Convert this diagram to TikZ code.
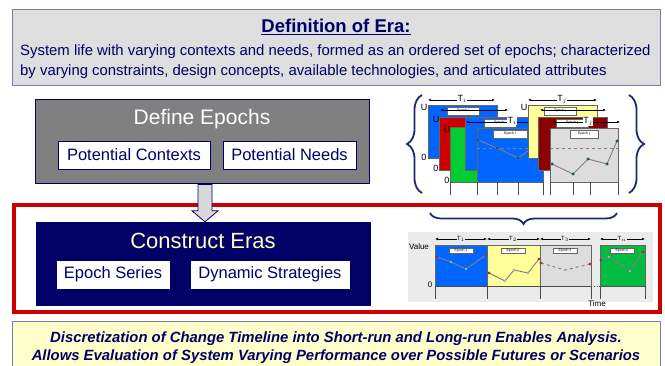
\documentclass[tikz,border=0pt]{standalone}
\usepackage{fontspec}
\setmainfont{Liberation Sans}
\usetikzlibrary{calc,decorations.pathreplacing,arrows.meta}
\definecolor{navy}{HTML}{000066}
\definecolor{frameblue}{HTML}{7B7BAB}
\definecolor{notegrey}{HTML}{DEDEDE}
\definecolor{notecream}{HTML}{FFFFCC}
\definecolor{epochgrey}{HTML}{808080}
\definecolor{erared}{HTML}{CC0000}
\definecolor{arrowgrey}{HTML}{D9D9D9}
\definecolor{pblue}{HTML}{0066FF}
\definecolor{pred}{HTML}{CC0000}
\definecolor{pgreen}{HTML}{00CC33}
\definecolor{pyellow}{HTML}{FFFF99}
\definecolor{pmaroon}{HTML}{8B0000}
\definecolor{pgrey}{HTML}{DDDDDD}
\definecolor{braceblue}{HTML}{1F2A70}
\tikzset{
	notebox/.style={draw=frameblue, line width=1pt, inner sep=0pt},
	subbox/.style={draw=navy, fill=white, inner sep=0pt, text=navy, font=\fontsize{16.5}{18}\selectfont},
	headtext/.style={font=\fontsize{21}{24}\selectfont},
	panel/.style={draw=black!60, line width=0.4pt},
	tag/.style={draw=black!60, fill=white, line width=0.3pt, inner sep=0pt, font=\fontsize{3.5}{4}\selectfont},
	span/.style={{Latex[length=3pt,width=2.5pt]}-{Latex[length=3pt,width=2.5pt]}, line width=0.5pt},
	trace/.style={gray, line width=0.9pt},
	dot/.style={fill=teal!70!black, draw=black!60, line width=0.2pt},
	curly/.style={decorate, decoration={brace, amplitude=#1}, draw=braceblue, line width=1.8pt}
}
\begin{document}
\begin{tikzpicture}[x=1pt, y=-1pt]
		%%%%% START %%%%%
		\useasboundingbox (0,0) rectangle (665,366);
		\fill[white] (0,0) rectangle (665,366);
		
		% definition of era
		\node[notebox, fill=notegrey, minimum width=648, minimum height=76] (defbox) at (336,48) {};
		\node[text=navy, font=\bfseries\fontsize{18.5}{20}\selectfont] (deftitle) at (336,27) {\underline{Definition of Era:}};
		\node[text=navy, font=\fontsize{14.9}{20}\selectfont, align=left, anchor=west, inner sep=0pt] (deftext) at (20,62) {System life with varying contexts and needs, formed as an ordered set of epochs; characterized\\by varying constraints, design concepts, available technologies, and articulated attributes};
		
		% define epochs
		\node[draw=navy, line width=1pt, fill=epochgrey, minimum width=334, minimum height=84] (epochs) at (202,142) {};
		\node[headtext, text=white] (epochstitle) at (202,119) {Define Epochs};
		\node[subbox, minimum width=152, minimum height=28] (contexts) at (134,155) {Potential Contexts};
		\node[subbox, minimum width=133, minimum height=28] (needs) at (289.5,155) {Potential Needs};
		
		% construct eras
		\node[draw=erared, line width=3.5pt, minimum width=646, minimum height=107] (erabox) at (337,258.5) {};
		\node[draw=navy, fill=navy, minimum width=334, minimum height=83] (eras) at (203,263.5) {};
		\node[headtext, text=notecream, font=\fontsize{22}{24}\selectfont] (erastitle) at (203,241) {Construct Eras};
		\node[subbox, draw=white, minimum width=112, minimum height=27] (series) at (113,274.5) {Epoch Series};
		\node[subbox, draw=white, minimum width=158, minimum height=27] (strategies) at (270,274.5) {Dynamic Strategies};
		
		\draw[fill=arrowgrey, draw=navy, line width=0.8pt] ($(epochs.south)+(-4,0)$) -- ($(eras.north)+(-5,-11)$) -- ($(eras.north)+(-11,-11)$) -- ($(eras.north)+(2,0)$) -- ($(eras.north)+(15,-11)$) -- ($(eras.north)+(9,-11)$) -- ($(epochs.south)+(10,0)$) -- cycle;
		
		% summary
		\node[notebox, fill=notecream, minimum width=648, minimum height=50] (summary) at (336,347) {};
		\node[text=navy, font=\bfseries\itshape\fontsize{14.85}{18}\selectfont, align=center] (summarytext) at (336,348) {Discretization of Change Timeline into Short-run and Long-run Enables Analysis.\\Allows Evaluation of System Varying Performance over Possible Futures or Scenarios};
		
		% epochs collage
		\draw[curly=15pt] (422,193) -- (422,95);
		\draw[curly=15pt] (629,95) -- (629,193);
		
		\draw[span] (428,100) -- (495,100);
		\node[fill=white, inner sep=0.5pt, font=\fontsize{9}{9}\selectfont] at (462,99) {T$_i$};
		\draw[span] (528,100) -- (597,100);
		\node[fill=white, inner sep=0.5pt, font=\fontsize{9}{9}\selectfont] at (562,99) {T$_j$};
		
		\fill[panel, fill=pblue] (428,105) rectangle (497,158);
		\node[tag, minimum width=32, minimum height=8] at (463,111) {Epoch i};
		\node[font=\fontsize{9}{9}\selectfont] at (424,107) {U};
		\node[font=\fontsize{9}{9}\selectfont] at (424,157) {0};
		\draw[span] (440,110) -- (508,110);
		
		\fill[panel, fill=pred] (439,117) rectangle (508,170);
		\node[font=\fontsize{9}{9}\selectfont] at (436,119) {U};
		\node[font=\fontsize{9}{9}\selectfont] at (436,168) {0};
		
		\fill[panel, fill=pgreen] (450,127) rectangle (519,182);
		\node[font=\fontsize{9}{9}\selectfont] at (447,129) {U};
		\node[font=\fontsize{9}{9}\selectfont] at (447,180) {0};
		
		\fill[panel, fill=pblue] (465,117) rectangle (534,170);
		\node[tag, minimum width=32, minimum height=8] at (500,123) {Epoch i};
		\draw[span] (466,122) -- (536,122);
		\node[fill=white, inner sep=0.5pt, font=\fontsize{9}{9}\selectfont] at (512,121) {T$_i$};
		
		\fill[panel, fill=pblue] (477,128) rectangle (543,182);
		\node[tag, minimum width=34, minimum height=8] at (510,134) {Epoch i};
		\draw[trace, dashed] (477,148) -- (543,148);
		\draw[trace] (478,140) -- (497,148) -- (518,158) -- (542,141);
		\filldraw[dot] (478,140) circle (1.5) (497,148) circle (1.5) (518,158) circle (1.5) (542,141) circle (1.5);
		
		\fill[panel, fill=pyellow] (528,105) rectangle (597,158);
		\node[tag, minimum width=32, minimum height=8] at (560,111) {Epoch j};
		\node[font=\fontsize{9}{9}\selectfont] at (524,107) {U};
		\draw[span] (540,110) -- (606,110);
		
		\fill[panel, fill=pmaroon] (538,117) rectangle (607,170);
		\node[tag, minimum width=32, minimum height=8] at (572,123) {Epoch j};
		\draw[span] (552,122) -- (620,122);
		\node[fill=white, inner sep=0.5pt, font=\fontsize{9}{9}\selectfont] at (588,121) {T$_j$};
		
		\fill[panel, fill=pgrey] (550,128) rectangle (618,182);
		\node[tag, minimum width=28, minimum height=8] at (584,134) {Epoch j};
		\draw[trace, dashed] (550,148) -- (618,148);
		\draw[trace] (552,164) -- (573,174) -- (588,159) -- (607,164) -- (617,141);
		\filldraw[dot] (552,164) circle (1.5) (573,174) circle (1.5) (588,159) circle (1.5) (607,164) circle (1.5) (617,141) circle (1.5);
		
		\draw[black!70, line width=0.5pt] (450,182) -- (450,195) (477,182) -- (477,195) (497,182) -- (497,195) (518,182) -- (518,195) (543,182) -- (543,195) (550,182) -- (550,195) (573,182) -- (573,195) (590,182) -- (590,195) (618,182) -- (618,195);
		
		% era example
		\draw[curly=11pt] (617,213) -- (430,213);
		\fill[black!8] (408,232) rectangle (653,302);
		\draw[span] (435,239) -- (487,239);
		\node[fill=black!8, inner sep=0.5pt, font=\fontsize{6}{6}\selectfont] at (461,239) {T$_1$};
		\draw[span] (487,239) -- (540,239);
		\node[fill=black!8, inner sep=0.5pt, font=\fontsize{6}{6}\selectfont] at (513,239) {T$_2$};
		\draw[span] (540,239) -- (591,239);
		\node[fill=black!8, inner sep=0.5pt, font=\fontsize{6}{6}\selectfont] at (565,239) {T$_3$};
		\draw[span] (600,239) -- (645,239);
		\node[fill=black!8, inner sep=0.5pt, font=\fontsize{6}{6}\selectfont] at (622,239) {T$_n$};
		
		\fill[panel, fill=pblue] (435,245) rectangle (487,286);
		\fill[panel, fill=pyellow] (487,245) rectangle (540,286);
		\fill[panel, fill=pgrey] (540,245) rectangle (591,286);
		\fill[panel, fill=pgreen!80!teal] (600,245) rectangle (645,286);
		\node[tag, minimum width=24, minimum height=5] at (461,250.5) {Epoch 1};
		\node[tag, minimum width=24, minimum height=5] at (513,250.5) {Epoch 2};
		\node[tag, minimum width=24, minimum height=5] at (565,250.5) {Epoch 3};
		\node[tag, minimum width=24, minimum height=5] at (622,250.5) {Epoch n};
		
		\draw[trace] (437,257) -- (451,262) -- (466,269) -- (486,255);
		\draw[trace] (489,273) -- (505,281) -- (514,270) -- (528,273) -- (539,259);
		\draw[trace, dashed] (541,263) -- (565,270) -- (590,264);
		\draw[trace] (601,260) -- (609,257) -- (630,271) -- (643,252);
		\filldraw[dot, fill=pred] (437,257) circle (1.3) (486,255) circle (1.3) (489,273) circle (1.3) (539,259) circle (1.3) (541,263) circle (1.3) (590,264) circle (1.3) (601,260) circle (1.3) (643,252) circle (1.3);
		\filldraw[dot, fill=white] (451,262) circle (1.2) (466,269) circle (1.2) (505,281) circle (1.2) (514,270) circle (1.2) (528,273) circle (1.2) (565,270) circle (1.2) (609,257) circle (1.2) (630,271) circle (1.2);
		
		\draw[black!70, line width=0.6pt] (435,286) -- (591,286) (600,286) -- (645,286);
		\draw[black!70, dotted, line width=0.8pt] (591,286) -- (600,286);
		\draw[black!70, line width=0.5pt] (435,286) -- (435,299) (487,286) -- (487,299) (540,286) -- (540,299) (591,286) -- (591,299) (600,286) -- (600,299) (645,286) -- (645,299);
		\node[font=\fontsize{8}{8}\selectfont] (valuelabel) at (419,247) {Value};
		\node[font=\fontsize{8}{8}\selectfont] (zerolabel) at (430,285) {0};
		\node[font=\fontsize{8}{8}\selectfont] (timelabel) at (597,304) {Time};
		%%%%% END %%%%%
\end{tikzpicture}
\end{document}
